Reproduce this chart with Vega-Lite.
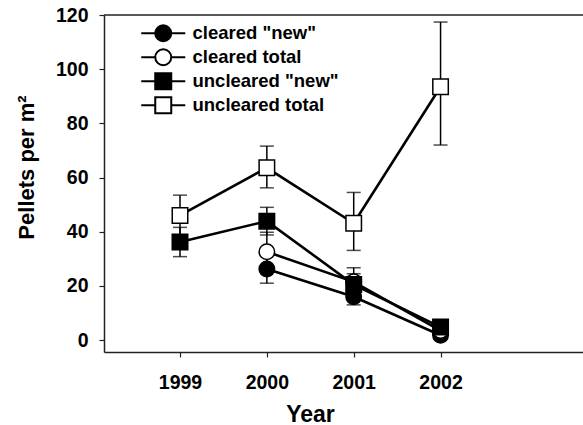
{
  "$schema": "https://vega.github.io/schema/vega-lite/v6.json",
  "width": 479,
  "height": 337,
  "autosize": "none",
  "padding": {"left": 104, "top": 15, "right": 0, "bottom": 73},
  "background": "white",
  "config": {
    "view": {"stroke": null},
    "axis": {
      "labelFont": "Liberation Sans",
      "labelFontWeight": "bold",
      "labelFontSize": 19.5,
      "labelColor": "black",
      "titleFont": "Liberation Sans",
      "titleFontWeight": "bold",
      "titleFontSize": 23,
      "titleColor": "black",
      "domainColor": "#222",
      "domainWidth": 1.5,
      "tickColor": "#222",
      "tickWidth": 1.2,
      "tickSize": 5,
      "grid": false,
      "labelOverlap": false,
      "labelBound": false,
      "labelFlush": false
    }
  },
  "data": {
    "values": [
      {"series": "cleared \"new\"", "year": 2000, "value": 26.2, "lo": 21.0, "hi": 31.5},
      {"series": "cleared \"new\"", "year": 2001, "value": 16.0, "lo": 13.0, "hi": 19.0},
      {"series": "cleared \"new\"", "year": 2002, "value": 1.8, "lo": 0.5, "hi": 3.0},
      {"series": "cleared total", "year": 2000, "value": 32.6, "lo": 25.5, "hi": 39.8},
      {"series": "cleared total", "year": 2001, "value": 21.5, "lo": 16.5, "hi": 26.7},
      {"series": "cleared total", "year": 2002, "value": 3.5, "lo": 2.0, "hi": 5.0},
      {"series": "uncleared \"new\"", "year": 1999, "value": 36.2, "lo": 30.8, "hi": 41.6},
      {"series": "uncleared \"new\"", "year": 2000, "value": 43.9, "lo": 38.8, "hi": 49.0},
      {"series": "uncleared \"new\"", "year": 2001, "value": 20.5, "lo": 16.5, "hi": 24.5},
      {"series": "uncleared \"new\"", "year": 2002, "value": 4.8, "lo": 3.0, "hi": 6.5},
      {"series": "uncleared total", "year": 1999, "value": 46.0, "lo": 38.7, "hi": 53.5},
      {"series": "uncleared total", "year": 2000, "value": 63.6, "lo": 56.2, "hi": 71.6},
      {"series": "uncleared total", "year": 2001, "value": 43.1, "lo": 33.1, "hi": 54.5},
      {"series": "uncleared total", "year": 2002, "value": 93.5, "lo": 72.0, "hi": 117.4}
    ]
  },
  "encoding": {
    "x": {
      "field": "year",
      "type": "quantitative",
      "scale": {"domain": [1998.125, 2003.64], "nice": false, "zero": false},
      "axis": {
        "title": "Year",
        "values": [1999, 2000, 2001, 2002],
        "format": "d",
        "labelBaseline": "alphabetic",
        "labelPadding": 31,
        "titleX": 206,
        "titleY": 69,
        "titleBaseline": "alphabetic",
        "titleAnchor": null,
        "titleAlign": "center"
      }
    },
    "y": {
      "field": "value",
      "type": "quantitative",
      "title": "Pellets per m²",
      "scale": {"domain": [-4.4, 120], "nice": false, "zero": false},
      "axis": {
        "values": [0, 20, 40, 60, 80, 100, 120],
        "labelPadding": 11,
        "titleFontSize": 22,
        "titleAngle": 270,
        "titleX": -71,
        "titleY": 152,
        "titleBaseline": "alphabetic",
        "titleAlign": "center",
        "titleAnchor": null
      }
    }
  },
  "layer": [
    {
      "data": {"values": [{"top": 120}]},
      "mark": {"type": "rule", "color": "#222", "strokeWidth": 1.5},
      "encoding": {"x": null, "y": {"field": "top", "type": "quantitative", "title": "Pellets per m²"}}
    },
    {
      "mark": {"type": "rule", "color": "black", "strokeWidth": 1.5},
      "encoding": {
        "y": {"field": "lo", "type": "quantitative", "title": "Pellets per m²"},
        "y2": {"field": "hi"},
        "detail": {"field": "series"}
      }
    },
    {
      "mark": {"type": "tick", "orient": "horizontal", "color": "black", "thickness": 1.5},
      "encoding": {
        "y": {"field": "lo", "type": "quantitative", "title": "Pellets per m²"},
        "size": {"value": 14},
        "detail": {"field": "series"}
      }
    },
    {
      "mark": {"type": "tick", "orient": "horizontal", "color": "black", "thickness": 1.5},
      "encoding": {
        "y": {"field": "hi", "type": "quantitative", "title": "Pellets per m²"},
        "size": {"value": 14},
        "detail": {"field": "series"}
      }
    },
    {
      "mark": {"type": "line", "color": "black", "strokeWidth": 2.6},
      "encoding": {
        "detail": {"field": "series"},
        "order": {"field": "year"}
      }
    },
    {
      "mark": {"type": "point", "filled": true, "stroke": "black", "strokeWidth": 1.5, "size": 240, "opacity": 1},
      "encoding": {
        "fill": {"condition": {"test": "indexof(datum.series, 'new') >= 0", "value": "black"}, "value": "white"},
        "shape": {"condition": {"test": "indexof(datum.series, 'cleared') === 0", "value": "circle"}, "value": "square"}
      }
    },
    {
      "transform": [{"filter": "false"}],
      "mark": {"type": "point", "filled": true, "stroke": "black", "strokeWidth": 2, "size": 256, "opacity": 1},
      "encoding": {
        "fill": {
          "field": "series",
          "type": "nominal",
          "scale": {
            "domain": ["cleared \"new\"", "cleared total", "uncleared \"new\"", "uncleared total"],
            "range": ["black", "white", "black", "white"]
          },
          "legend": {
            "title": null,
            "orient": "none",
            "legendX": 50,
            "legendY": 9,
            "padding": 0,
            "symbolSize": 256,
            "symbolStrokeColor": "black",
            "symbolStrokeWidth": 2,
            "labelFont": "Liberation Sans",
            "labelFontWeight": "bold",
            "labelFontSize": 18.5,
            "labelColor": "black",
            "labelOffset": 20,
            "rowPadding": -1,
            "labelLimit": 400
          }
        },
        "shape": {
          "field": "series",
          "type": "nominal",
          "scale": {
            "domain": ["cleared \"new\"", "cleared total", "uncleared \"new\"", "uncleared total"],
            "range": [
              "M-2.75,0H-1M1,0H2.75M1,0A1,1,0,1,1,-1,0A1,1,0,1,1,1,0Z",
              "M-2.75,0H-1M1,0H2.75M1,0A1,1,0,1,1,-1,0A1,1,0,1,1,1,0Z",
              "M-2.75,0H-1M1,0H2.75M-1,-1H1V1H-1Z",
              "M-2.75,0H-1M1,0H2.75M-1,-1H1V1H-1Z"
            ]
          }
        }
      }
    }
  ]
}
